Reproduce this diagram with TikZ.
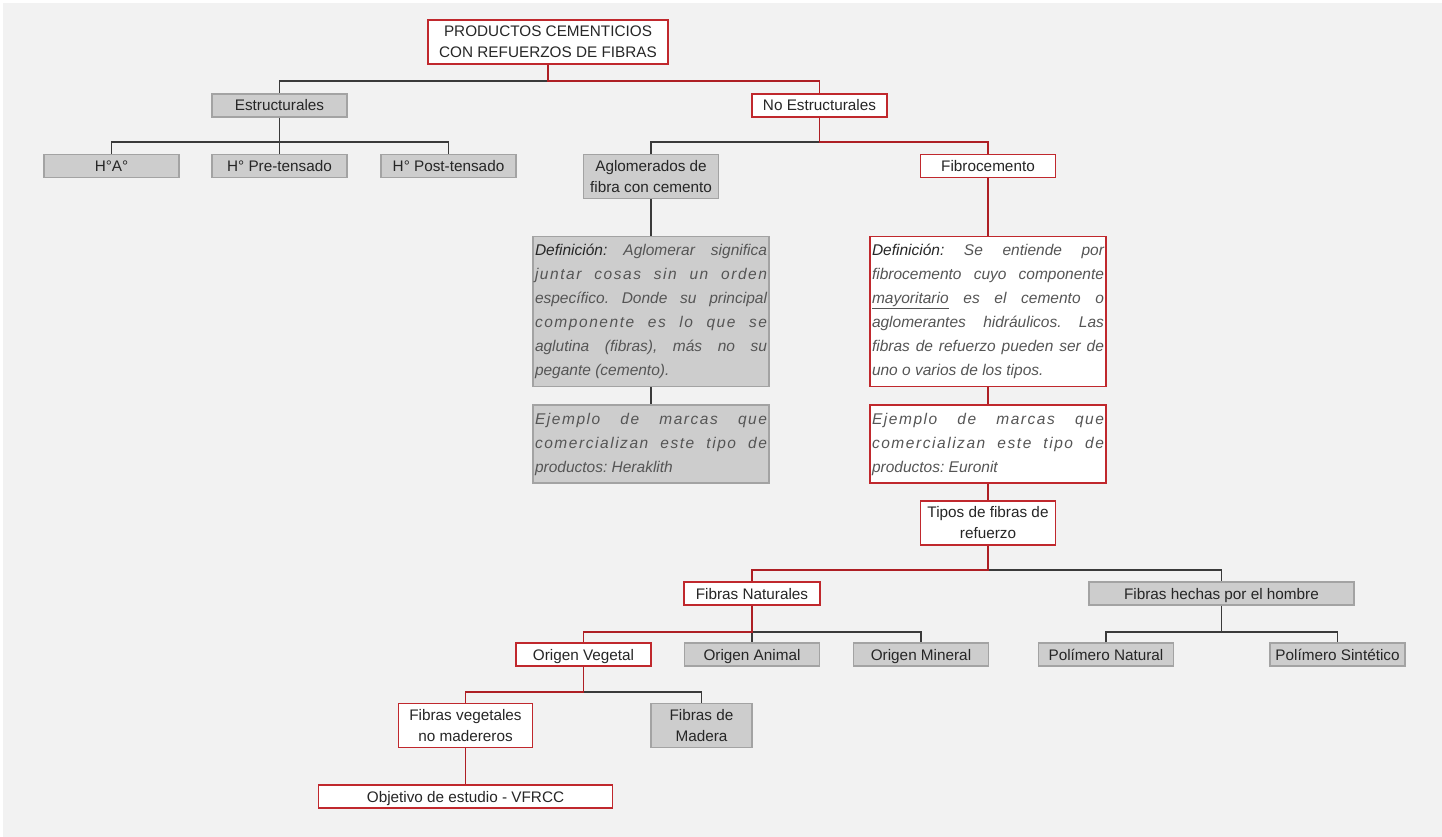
\documentclass[tikz,border=0pt]{standalone}
\usepackage{fontspec}
\setmainfont{Liberation Sans}
\definecolor{bgc}{HTML}{F2F2F2}
\definecolor{gfill}{HTML}{CDCDCD}
\definecolor{gborder}{HTML}{A3A3A3}
\definecolor{rborder}{HTML}{C0282D}
\definecolor{lred}{HTML}{AE1F24}
\definecolor{lblack}{HTML}{3A3A3A}
\definecolor{txt}{HTML}{262626}
\definecolor{itxt}{HTML}{555555}
\newcommand{\spc}[1]{{\addfontfeature{LetterSpace=10}#1}}
\tikzset{
  base/.style={line width=1.2pt, inner sep=0pt, align=center, text=txt,
    font={\fontsize{15.3}{21}\selectfont}},
  gbox/.style={base, draw=gborder, fill=gfill},
  rbox/.style={base, draw=rborder, fill=white},
  sz1/.style={minimum width=135pt, minimum height=23pt, text height=13pt, text depth=2pt},
  sz2/.style={minimum width=135pt, minimum height=44pt},
  defbox/.style={minimum width=236pt, minimum height=150pt, text width=232pt,
    align=justify, font={\fontsize{15.5}{24}\selectfont\itshape\frenchspacing}, text=itxt},
  ejbox/.style={minimum width=236pt, minimum height=78pt, text width=232pt,
    align=justify, font={\fontsize{15.5}{24}\selectfont\itshape\frenchspacing}, text=itxt},
  bl/.style={draw=lblack, line width=1.3pt},
  rl/.style={draw=lred, line width=1.3pt}
}
\begin{document}
\begin{tikzpicture}[x=1pt, y=-1pt]
\fill[white] (0,0) rectangle (1442,837);
\fill[bgc] (3,3) rectangle (1442,837);
\useasboundingbox (0,0) rectangle (1442,837);

% nodes
\node[rbox, minimum width=240pt, minimum height=44pt] (root) at (548,42) {PRODUCTOS CEMENTICIOS\\CON REFUERZOS DE FIBRAS};
\node[gbox, sz1] (est) at (279.5,105.5) {Estructurales};
\node[rbox, sz1] (ne) at (819.5,105.5) {No Estructurales};
\node[gbox, sz1] (ha) at (111.5,166) {H°A°};
\node[gbox, sz1] (hpre) at (279.5,166) {H° Pre-tensado};
\node[gbox, sz1] (hpost) at (448.5,166) {H° Post-tensado};
\node[gbox, sz2] (agl) at (651,176.5) {Aglomerados de\\fibra con cemento};
\node[rbox, sz1] (fib) at (988,166) {Fibrocemento};

\node[gbox, defbox] (adef) at (651,311.5) {%
{\color{txt}Definición:} Aglomerar significa\linebreak
\spc{juntar cosas sin un orden}\linebreak
específico. Donde su principal\linebreak
\spc{componente es lo que se}\linebreak
aglutina (fibras), más no su\linebreak
pegante (cemento).};
\node[gbox, ejbox] (aej) at (651,444) {%
\spc{Ejemplo de marcas que}\linebreak
\spc{comercializan este tipo de}\linebreak
productos: Heraklith};

\node[rbox, defbox] (fdef) at (988,311.5) {%
{\color{txt}Definición:} Se entiende por\linebreak
fibrocemento cuyo componente\linebreak
\underline{mayoritario} es el cemento o\linebreak
aglomerantes hidráulicos. Las\linebreak
fibras de refuerzo pueden ser de\linebreak
uno o varios de los tipos.};
\node[rbox, ejbox] (fej) at (988,444) {%
\spc{Ejemplo de marcas que}\linebreak
\spc{comercializan este tipo de}\linebreak
productos: Euronit};

\node[rbox, sz2] (tipos) at (988,523) {Tipos de fibras de\\refuerzo};
\node[rbox, sz1, minimum width=136pt] (fn) at (752,593.5) {Fibras Naturales};
\node[gbox, sz1, minimum width=265pt] (fh) at (1221.5,593.5) {Fibras hechas por el hombre};
\node[rbox, sz1] (ov) at (583.5,654.5) {Origen Vegetal};
\node[gbox, sz1] (oa) at (752,654.5) {Origen Animal};
\node[gbox, sz1] (om) at (921,654.5) {Origen Mineral};
\node[gbox, sz1] (pn) at (1106,654.5) {Polímero Natural};
\node[gbox, sz1] (ps) at (1337.5,654.5) {Polímero Sintético};
\node[rbox, minimum width=134pt, minimum height=44pt] (fv) at (465.5,725.5) {Fibras vegetales\\no madereros};
\node[gbox, minimum width=101pt, minimum height=44pt] (fm) at (701.5,725.5) {Fibras de\\Madera};
\node[rbox, sz1, minimum width=294pt] (obj) at (465.5,796.5) {Objetivo de estudio - VFRCC};

% junctions
\coordinate (j1) at (548,81);
\coordinate (j2) at (279.5,142);
\coordinate (j3) at (819.5,142);
\coordinate (j4) at (988,570);
\coordinate (j5) at (752,632);
\coordinate (j6) at (1221.5,632);
\coordinate (j7) at (583.5,692);

% connectors
\draw[bl] (j1) -| (est.north);
\draw[rl] (root.south) -- (j1) -| (ne.north);

\draw[bl] (est.south) -- (hpre.north);
\draw[bl] (ha.north) |- (j2) -| (hpost.north);

\draw[bl] (agl.north) |- (j3);
\draw[rl] (ne.south) -- (j3) -| (fib.north);

\draw[bl] (agl.south) -- (adef.north);
\draw[bl] (adef.south) -- (aej.north);
\draw[rl] (fib.south) -- (fdef.north);
\draw[rl] (fdef.south) -- (fej.north);
\draw[rl] (fej.south) -- (tipos.north);

\draw[bl] (j4) -| (fh.north);
\draw[rl] (tipos.south) -- (j4) -| (fn.north);

\draw[bl] (j5) -| (om.north);
\draw[bl] (j5) -- (oa.north);
\draw[rl] (fn.south) -- (j5) -| (ov.north);

\draw[bl] (fh.south) -- (j6);
\draw[bl] (pn.north) |- (j6) -| (ps.north);

\draw[bl] (j7) -| (fm.north);
\draw[rl] (ov.south) -- (j7) -| (fv.north);

\draw[rl] (fv.south) -- (obj.north);
\end{tikzpicture}
\end{document}
